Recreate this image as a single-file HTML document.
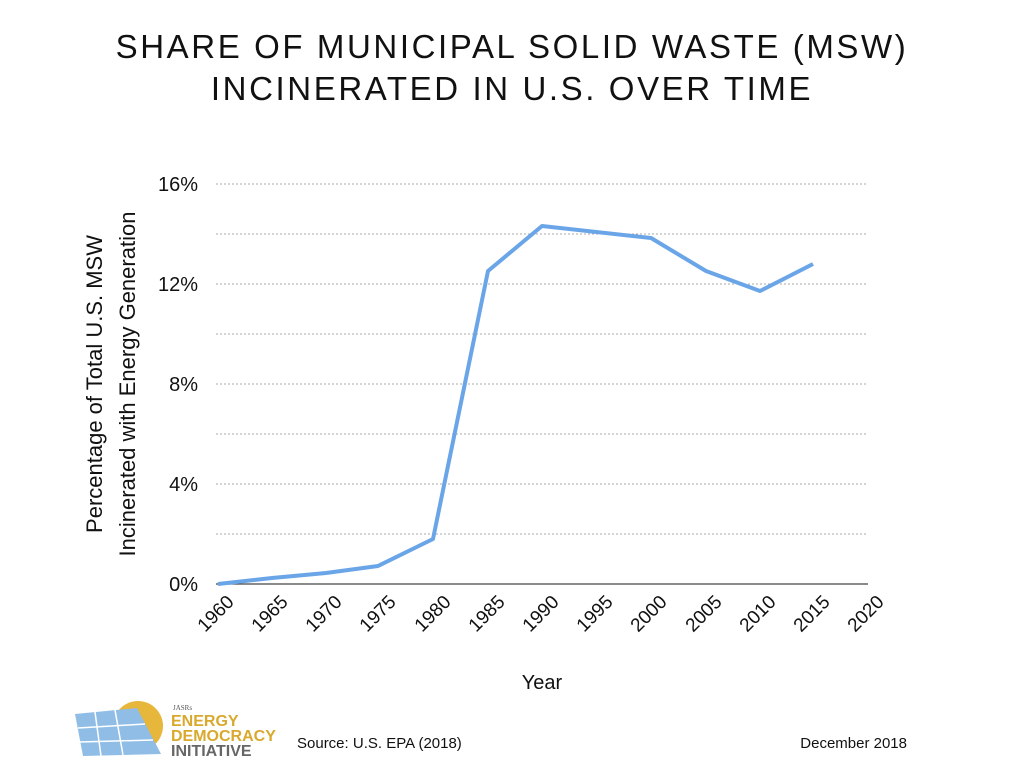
<!DOCTYPE html>
<html><head><style>
body{margin:0;background:#fff;}
svg{display:block;font-family:"Liberation Sans",sans-serif;}
</style></head><body>
<svg width="1024" height="768" viewBox="0 0 1024 768">
<text x="512" y="58" text-anchor="middle" font-size="33" letter-spacing="2.6" fill="#111">SHARE OF MUNICIPAL SOLID WASTE (MSW)</text>
<text x="512" y="100" text-anchor="middle" font-size="33" letter-spacing="2.6" fill="#111">INCINERATED IN U.S. OVER TIME</text>
<g stroke="#aaa" stroke-width="1" stroke-dasharray="2,2">
<line x1="216" y1="184" x2="868" y2="184"/><line x1="216" y1="234" x2="868" y2="234"/>
<line x1="216" y1="284" x2="868" y2="284"/><line x1="216" y1="334" x2="868" y2="334"/>
<line x1="216" y1="384" x2="868" y2="384"/><line x1="216" y1="434" x2="868" y2="434"/>
<line x1="216" y1="484" x2="868" y2="484"/><line x1="216" y1="534" x2="868" y2="534"/>
</g>
<line x1="216" y1="584" x2="868" y2="584" stroke="#444" stroke-width="1.2"/>
<g font-size="20" fill="#111" text-anchor="end">
<text x="198" y="191">16%</text><text x="198" y="291">12%</text>
<text x="198" y="391">8%</text><text x="198" y="491">4%</text><text x="198" y="591">0%</text>
</g>
<g font-size="19" fill="#111" text-anchor="end">
<text transform="translate(235,603) rotate(-45)">1960</text>
<text transform="translate(289,603) rotate(-45)">1965</text>
<text transform="translate(343,603) rotate(-45)">1970</text>
<text transform="translate(397,603) rotate(-45)">1975</text>
<text transform="translate(452,603) rotate(-45)">1980</text>
<text transform="translate(506,603) rotate(-45)">1985</text>
<text transform="translate(560,603) rotate(-45)">1990</text>
<text transform="translate(614,603) rotate(-45)">1995</text>
<text transform="translate(668,603) rotate(-45)">2000</text>
<text transform="translate(723,603) rotate(-45)">2005</text>
<text transform="translate(777,603) rotate(-45)">2010</text>
<text transform="translate(831,603) rotate(-45)">2015</text>
<text transform="translate(885,603) rotate(-45)">2020</text>
</g>
<text x="542" y="689" text-anchor="middle" font-size="20" fill="#111">Year</text>
<text transform="translate(102,384) rotate(-90)" text-anchor="middle" font-size="22" fill="#111">Percentage of Total U.S. MSW</text>
<text transform="translate(135,384) rotate(-90)" text-anchor="middle" font-size="22" fill="#111">Incinerated with Energy Generation</text>
<polyline fill="none" stroke="#6aa5e8" stroke-width="4" stroke-linejoin="round" points="218,584 272,578 326,573 378,566 433,539 488,271 542,226 651,238 706,271 760,291 813,264"/>
<g transform="translate(75,700)">
<circle cx="63" cy="26" r="25" fill="#e6b73a"/>
<polygon points="0,14 62,8 86,54 8,56" fill="#8fbde6"/>
<g stroke="#fff" stroke-width="1.5"><line x1="20" y1="12" x2="26" y2="56"/><line x1="40" y1="10" x2="48" y2="55"/><line x1="3" y1="28" x2="70" y2="24"/><line x1="5" y1="42" x2="78" y2="40"/></g>
<text x="98" y="10" font-size="7" font-family="Liberation Serif,serif" fill="#555">JASRs</text>
<text x="96" y="26" font-size="16" font-weight="bold" fill="#d9a92e">ENERGY</text>
<text x="96" y="41" font-size="16" font-weight="bold" fill="#d9a92e">DEMOCRACY</text>
<text x="96" y="56" font-size="16" font-weight="bold" fill="#666">INITIATIVE</text>
</g>
<text x="297" y="748" font-size="15" fill="#111">Source: U.S. EPA (2018)</text>
<text x="907" y="748" text-anchor="end" font-size="15" fill="#111">December 2018</text>
</svg>
</body></html>
